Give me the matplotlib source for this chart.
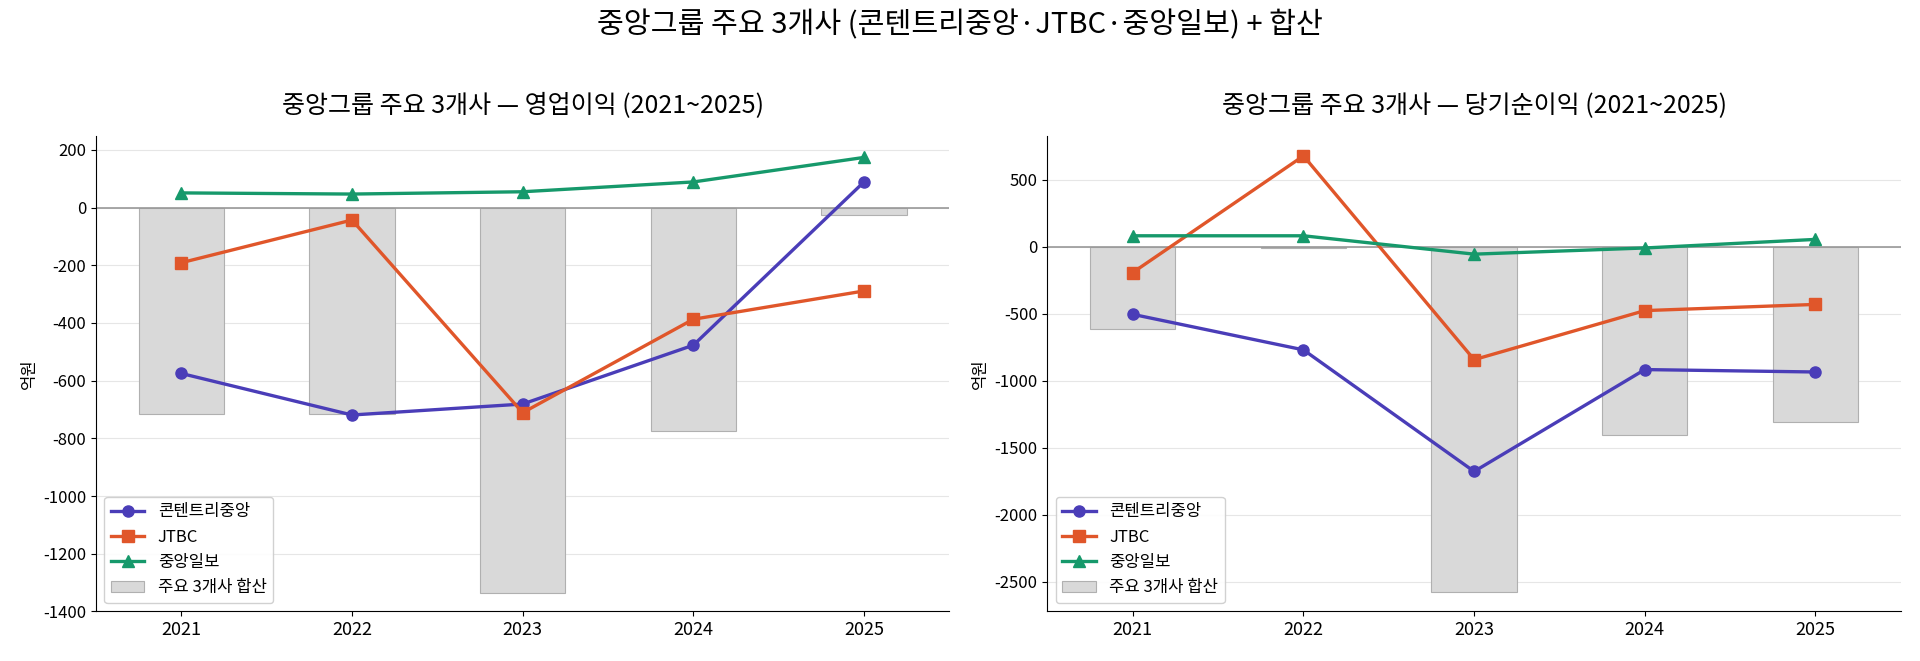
import matplotlib.pyplot as plt
import numpy as np

plt.rcParams['font.family'] = ['Noto Sans CJK KR', 'DejaVu Sans']
plt.rcParams['axes.unicode_minus'] = False

years = ['2021', '2022', '2023', '2024', '2025']

# 영업이익 (억원)
op_content = [-575, -719, -681, -477, 89]
op_jtbc = [-191, -43, -711, -387, -289]
op_ilbo = [51, 47, 55, 89, 174]

# 당기순이익 (억원)
ni_content = [-504, -769, -1676, -916, -934]
ni_jtbc = [-192, 678, -842, -476, -430]
ni_ilbo = [82, 82, -55, -9, 55]

names = ['콘텐트리중앙', 'JTBC', '중앙일보']
colors = ['#4a3db8', '#e0562a', '#16996b']
markers = ['o', 's', '^']


def draw(ax, series, title, ylim):
    x = np.arange(len(years))
    total = np.sum(series, axis=0)
    ax.bar(x, total, width=0.5, color='#d9d9d9', edgecolor='#b0b0b0', linewidth=0.8,
           label='주요 3개사 합산', zorder=1)
    for s, name, c, m in zip(series, names, colors, markers):
        ax.plot(x, s, color=c, marker=m, markersize=8, linewidth=2.4, label=name, zorder=3)
    ax.axhline(0, color='#999999', linewidth=1.2, zorder=2)
    ax.set_xticks(x)
    ax.set_xticklabels(years, fontsize=13)
    ax.set_ylim(*ylim)
    ax.set_xlim(-0.5, 4.5)
    ax.set_ylabel('억원', fontsize=12)
    ax.set_title(title, fontsize=18, pad=16)
    ax.grid(axis='y', color='#e6e6e6', linewidth=0.8, zorder=0)
    ax.set_axisbelow(True)
    ax.spines['top'].set_visible(False)
    ax.spines['right'].set_visible(False)
    ax.tick_params(axis='y', labelsize=12)
    ax.legend(loc='lower left', fontsize=12, framealpha=0.9)


fig, axes = plt.subplots(1, 2, figsize=(19.2, 6.61), dpi=100)
draw(axes[0], [op_content, op_jtbc, op_ilbo], '중앙그룹 주요 3개사 — 영업이익 (2021~2025)', (-1400, 250))
axes[0].set_yticks(np.arange(-1400, 201, 200))
draw(axes[1], [ni_content, ni_jtbc, ni_ilbo], '중앙그룹 주요 3개사 — 당기순이익 (2021~2025)', (-2720, 830))
axes[1].set_yticks(np.arange(-2500, 501, 500))
fig.suptitle('중앙그룹 주요 3개사 (콘텐트리중앙·JTBC·중앙일보) + 합산', fontsize=21, y=0.985)
fig.subplots_adjust(left=0.05, right=0.99, top=0.795, bottom=0.075, wspace=0.115)
fig.savefig('out.png')
